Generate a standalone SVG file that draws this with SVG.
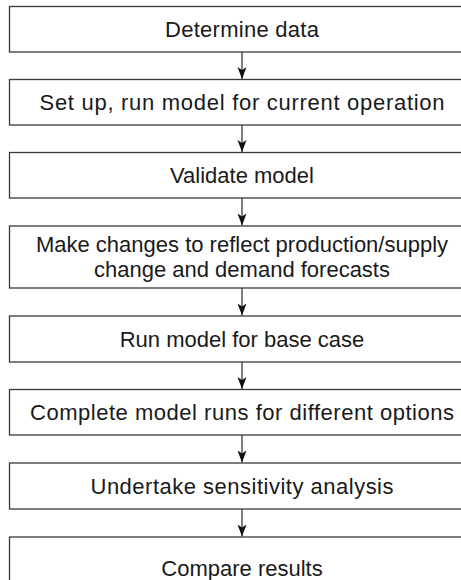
<svg xmlns="http://www.w3.org/2000/svg" width="461" height="580" viewBox="0 0 461 580">
<defs>
<style>
.box{fill:#fff;stroke:#3a3a3a;stroke-width:1.3}
.lbl{font-family:"Liberation Sans",Arial,sans-serif;font-size:22px;fill:#1a1a1a;text-anchor:middle}
.con{stroke:#3a3a3a;stroke-width:1.3;fill:none}
</style>
<marker id="ah" markerUnits="userSpaceOnUse" markerWidth="12" markerHeight="10" refX="12" refY="5" orient="auto" viewBox="0 0 12 10">
<path d="M0,0.5 L12,5 L0,9.5 L3,5 Z" fill="#111"/>
</marker>
</defs>
<rect width="461" height="580" fill="#fff"/>
<g id="n1"><rect class="box" x="9.5" y="6.5" width="466" height="45.5"/><text class="lbl" x="242" y="37" textLength="154" lengthAdjust="spacing">Determine data</text></g>
<g id="n2"><rect class="box" x="9.5" y="79.5" width="466" height="45.5"/><text class="lbl" x="242" y="110" textLength="405" lengthAdjust="spacing">Set up, run model for current operation</text></g>
<g id="n3"><rect class="box" x="9.5" y="152.5" width="466" height="45.5"/><text class="lbl" x="242" y="183">Validate model</text></g>
<g id="n4"><rect class="box" x="9.5" y="226" width="466" height="62"/><text class="lbl" x="242" y="251.5">Make changes to reflect production/supply</text><text class="lbl" x="242" y="276.5">change and demand forecasts</text></g>
<g id="n5"><rect class="box" x="9.5" y="316" width="466" height="46"/><text class="lbl" x="242" y="346.5">Run model for base case</text></g>
<g id="n6"><rect class="box" x="9.5" y="389.5" width="466" height="45.5"/><text class="lbl" x="242" y="420" textLength="424" lengthAdjust="spacing">Complete model runs for different options</text></g>
<g id="n7"><rect class="box" x="9.5" y="463" width="466" height="46"/><text class="lbl" x="242" y="493.5" textLength="303" lengthAdjust="spacing">Undertake sensitivity analysis</text></g>
<g id="n8"><rect class="box" x="9.5" y="537" width="466" height="70"/><text class="lbl" x="242" y="575.5">Compare results</text></g>
<g id="connectors">
<line class="con" x1="242" y1="52" x2="242" y2="79" marker-end="url(#ah)"/>
<line class="con" x1="242" y1="125" x2="242" y2="152" marker-end="url(#ah)"/>
<line class="con" x1="242" y1="198" x2="242" y2="225.5" marker-end="url(#ah)"/>
<line class="con" x1="242" y1="288" x2="242" y2="315.5" marker-end="url(#ah)"/>
<line class="con" x1="242" y1="362" x2="242" y2="389" marker-end="url(#ah)"/>
<line class="con" x1="242" y1="435" x2="242" y2="462.5" marker-end="url(#ah)"/>
<line class="con" x1="242" y1="509" x2="242" y2="536.5" marker-end="url(#ah)"/>
</g>
</svg>
